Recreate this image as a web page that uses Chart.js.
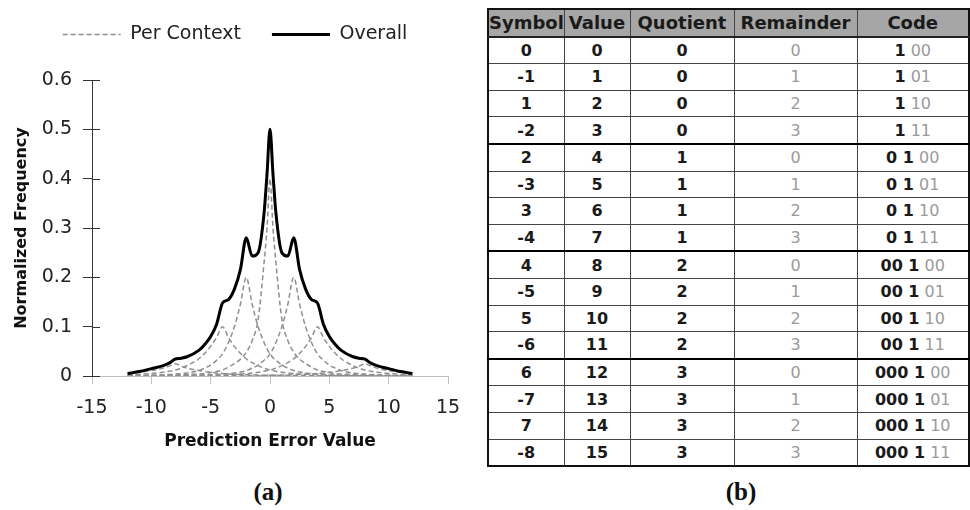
<!DOCTYPE html>
<html>
<head>
<meta charset="utf-8">
<script src="https://cdn.jsdelivr.net/npm/chart.js@4"></script>
<style>
  body { margin: 0; width: 970px; height: 510px; background: #fff; position: relative; overflow: hidden; }
  #chartBox { position: absolute; left: 0; top: -6px; width: 480px; height: 476px; }
  #codeTable {
    position: absolute; left: 487px; top: 8px; width: 481px;
    border-collapse: collapse; table-layout: fixed;
    font-family: "DejaVu Sans", sans-serif; border: 2px solid #111;
  }
  #codeTable th, #codeTable td {
    height: 25.6px; padding: 0; text-align: center; border: 1px solid #444;
    white-space: nowrap; overflow: hidden;
  }
  #codeTable th { background: #a6a6a6; color: #1a1a1a; font-size: 18px; font-weight: bold; border-bottom: 2px solid #222; }
  #codeTable td { font-size: 16px; color: #1a1a1a; }
  #codeTable td.b { font-weight: bold; }
  #codeTable td.gray, #codeTable span.gray { color: #9a9a9a; font-weight: normal; }
  #codeTable tr.groupEnd td { border-bottom: 2px solid #000; }
  .cap { position: absolute; top: 478px; font-family: "Liberation Serif", serif; font-weight: bold; font-size: 25px; color: #111; transform: translateX(-50%); }
</style>
</head>
<body>
<div id="chartBox"><canvas id="distChart"></canvas></div>
<table id="codeTable">
  <colgroup><col style="width:76px"><col style="width:66px"><col style="width:104px"><col style="width:123px"><col style="width:112px"></colgroup>
  <thead><tr><th>Symbol</th><th>Value</th><th>Quotient</th><th>Remainder</th><th>Code</th></tr></thead>
  <tbody id="codeBody"></tbody>
</table>
<div class="cap" style="left:268px">(a)</div>
<div class="cap" style="left:741px">(b)</div>

<script>
// x positions shared by every curve
const xs = [-12, -11, -10, -9, -8.5, -8, -7.5, -7, -6, -5.5, -5, -4.5, -4, -3.5, -3, -2.5, -2, -1.5, -1, -0.5, -0.25,
  0, 0.25, 0.5, 1, 1.5, 2, 2.5, 3, 3.5, 4, 4.5, 5, 5.5, 6, 7, 7.5, 8, 8.5, 9, 10, 11, 12];

// per context curves (dashed)
const ctx0 = [0.0003, 0.0005, 0.001, 0.001, 0.0015, 0.002, 0.002, 0.003, 0.004, 0.005, 0.007, 0.009, 0.012, 0.018, 0.025, 0.034, 0.048, 0.072, 0.115, 0.23, 0.30,
  0.40, 0.30, 0.23, 0.115, 0.072, 0.048, 0.034, 0.025, 0.018, 0.012, 0.009, 0.007, 0.005, 0.004, 0.003, 0.002, 0.002, 0.0015, 0.001, 0.001, 0.0005, 0.0003];
const ctxM2 = [0.0008, 0.001, 0.0015, 0.0025, 0.003, 0.004, 0.005, 0.006, 0.011, 0.016, 0.022, 0.032, 0.045, 0.068, 0.1, 0.145, 0.2, 0.145, 0.1, 0.068, 0.055,
  0.045, 0.037, 0.032, 0.022, 0.016, 0.011, 0.008, 0.006, 0.005, 0.004, 0.003, 0.0025, 0.002, 0.0015, 0.001, 0.0009, 0.0008, 0.0007, 0.0006, 0.0004, 0.0003, 0.0002];
const ctxP2 = [0.0002, 0.0003, 0.0004, 0.0006, 0.0007, 0.0008, 0.0009, 0.001, 0.0015, 0.002, 0.0025, 0.003, 0.004, 0.005, 0.006, 0.008, 0.011, 0.016, 0.022, 0.032, 0.037,
  0.045, 0.055, 0.068, 0.1, 0.145, 0.2, 0.145, 0.1, 0.068, 0.045, 0.032, 0.022, 0.016, 0.011, 0.006, 0.005, 0.004, 0.003, 0.0025, 0.0015, 0.001, 0.0008];
const ctxM4 = [0.0025, 0.0035, 0.005, 0.0075, 0.0095, 0.012, 0.016, 0.021, 0.035, 0.046, 0.06, 0.078, 0.1, 0.078, 0.06, 0.046, 0.035, 0.027, 0.021, 0.016, 0.014,
  0.012, 0.011, 0.0095, 0.0075, 0.006, 0.005, 0.004, 0.0035, 0.003, 0.0025, 0.002, 0.0017, 0.0015, 0.0012, 0.001, 0.0009, 0.0008, 0.0007, 0.0006, 0.0005, 0.0004, 0.0003];
const ctxP4 = [0.0003, 0.0004, 0.0005, 0.0006, 0.0007, 0.0008, 0.0009, 0.001, 0.0012, 0.0015, 0.0017, 0.002, 0.0025, 0.003, 0.0035, 0.004, 0.005, 0.006, 0.0075, 0.0095, 0.011,
  0.012, 0.014, 0.016, 0.021, 0.027, 0.035, 0.046, 0.06, 0.078, 0.1, 0.078, 0.06, 0.046, 0.035, 0.021, 0.016, 0.012, 0.0095, 0.0075, 0.005, 0.0035, 0.0025];
const ctxM8 = [0.005, 0.0075, 0.011, 0.016, 0.02, 0.025, 0.02, 0.016, 0.011, 0.009, 0.0075, 0.006, 0.005, 0.004, 0.0035, 0.003, 0.0025, 0.002, 0.0018, 0.0016, 0.0015,
  0.0014, 0.0013, 0.0012, 0.0011, 0.001, 0.0009, 0.00085, 0.0008, 0.00075, 0.0007, 0.00065, 0.0006, 0.00055, 0.0005, 0.0004, 0.00035, 0.0003, 0.00025, 0.0002, 0.00015, 0.0001, 0.0001];
const ctxP8 = [0.0001, 0.0001, 0.00015, 0.0002, 0.00025, 0.0003, 0.00035, 0.0004, 0.0005, 0.00055, 0.0006, 0.00065, 0.0007, 0.00075, 0.0008, 0.00085, 0.0009, 0.001, 0.0011, 0.0012, 0.0013,
  0.0014, 0.0015, 0.0016, 0.0018, 0.002, 0.0025, 0.003, 0.0035, 0.004, 0.005, 0.006, 0.0075, 0.009, 0.011, 0.016, 0.02, 0.025, 0.02, 0.016, 0.011, 0.0075, 0.005];

// overall curve (solid)
const overall = [0.005, 0.009, 0.015, 0.021, 0.026, 0.034, 0.036, 0.039, 0.052, 0.064, 0.08, 0.105, 0.148, 0.155, 0.176, 0.215, 0.28, 0.243, 0.25, 0.33, 0.41,
  0.5, 0.41, 0.33, 0.25, 0.243, 0.28, 0.215, 0.176, 0.155, 0.148, 0.105, 0.08, 0.064, 0.052, 0.039, 0.036, 0.034, 0.026, 0.021, 0.015, 0.009, 0.005];

const xTicks = [-15, -10, -5, 0, 5, 10, 15];
const yTicks = [0, 0.1, 0.2, 0.3, 0.4, 0.5, 0.6];

// table (b)
const symbols = [0, -1, 1, -2, 2, -3, 3, -4, 4, -5, 5, -6, 6, -7, 7, -8];
const values = [0, 1, 2, 3, 4, 5, 6, 7, 8, 9, 10, 11, 12, 13, 14, 15];
const quotients = [0, 0, 0, 0, 1, 1, 1, 1, 2, 2, 2, 2, 3, 3, 3, 3];
const remainders = [0, 1, 2, 3, 0, 1, 2, 3, 0, 1, 2, 3, 0, 1, 2, 3];
const codePrefix = ["1", "1", "1", "1", "0 1", "0 1", "0 1", "0 1", "00 1", "00 1", "00 1", "00 1", "000 1", "000 1", "000 1", "000 1"];
const codeSuffix = ["00", "01", "10", "11", "00", "01", "10", "11", "00", "01", "10", "11", "00", "01", "10", "11"];

const body = document.getElementById("codeBody");
symbols.forEach((s, i) => {
  const tr = document.createElement("tr");
  if (i % 4 === 3 && i < symbols.length - 1) tr.className = "groupEnd";
  tr.innerHTML =
    `<td class="b">${s}</td><td class="b">${values[i]}</td><td class="b">${quotients[i]}</td>` +
    `<td class="gray">${remainders[i]}</td>` +
    `<td><b>${codePrefix[i]}</b> <span class="gray">${codeSuffix[i]}</span></td>`;
  body.appendChild(tr);
});

const toPoints = (arr) => xs.map((x, i) => ({ x: x, y: arr[i] }));

const dashed = (data) => ({
  label: "Per Context",
  data: toPoints(data),
  borderColor: "#8f8f8f",
  borderWidth: 1.5,
  borderDash: [5, 3],
  pointRadius: 0,
  cubicInterpolationMode: "monotone",
  order: 1,
});

// inward half of the y axis tick marks
const innerTicks = {
  id: "innerTicks",
  afterDraw(chart) {
    const y = chart.scales.y;
    const c = chart.ctx;
    c.save();
    c.strokeStyle = "#333";
    c.lineWidth = 1;
    y.ticks.forEach((t) => {
      const py = Math.round(y.getPixelForValue(t.value)) + 0.5;
      c.beginPath();
      c.moveTo(y.right, py);
      c.lineTo(y.right + 8, py);
      c.stroke();
    });
    c.restore();
  },
};

Chart.defaults.font.family = "'DejaVu Sans', sans-serif";
Chart.defaults.color = "#333";

new Chart(document.getElementById("distChart").getContext("2d"), {
  type: "line",
  data: {
    datasets: [
      dashed(ctx0), dashed(ctxM2), dashed(ctxP2), dashed(ctxM4), dashed(ctxP4), dashed(ctxM8), dashed(ctxP8),
      {
        label: "Overall",
        data: toPoints(overall),
        borderColor: "#000",
        borderWidth: 3,
        pointRadius: 0,
        cubicInterpolationMode: "monotone",
        order: 0,
      },
    ],
  },
  options: {
    responsive: true,
    maintainAspectRatio: false,
    animation: false,
    layout: { padding: { left: 22, right: 32, top: 0, bottom: 0 } },
    plugins: {
      tooltip: { enabled: false },
      legend: {
        position: "top",
        labels: {
          usePointStyle: true,
          pointStyle: "line",
          pointStyleWidth: 58,
          padding: 31,
          color: "#222",
          font: { size: 19 },
          generateLabels: (chart) =>
            Chart.defaults.plugins.legend.labels.generateLabels(chart).map((item) => {
              const ds = chart.data.datasets[item.datasetIndex];
              item.lineDash = ds.borderDash || [];
              item.lineWidth = ds.borderWidth;
              item.strokeStyle = ds.borderColor;
              return item;
            }),
          filter: (item) => item.datasetIndex === 0 || item.text === "Overall",
          sort: (a, b) => a.datasetIndex - b.datasetIndex,
        },
      },
    },
    scales: {
      x: {
        type: "linear",
        min: -15,
        max: 15,
        afterBuildTicks: (s) => { s.ticks = xTicks.map((v) => ({ value: v })); },
        afterFit: (s) => { s.height = 94; },
        border: { color: "#c0c0c0", width: 1 },
        grid: { drawOnChartArea: false, tickLength: 8, color: "#c0c0c0" },
        ticks: { padding: 13, color: "#222", font: { size: 19 } },
        title: { display: true, text: "Prediction Error Value", color: "#111", font: { size: 17, weight: "bold" }, padding: { top: 0, bottom: 18 } },
      },
      xTop: {
        type: "linear",
        position: "top",
        min: -15,
        max: 15,
        afterFit: (s) => { s.height = 26; },
        border: { display: false },
        grid: { display: false },
        ticks: { display: false },
      },
      y: {
        min: 0,
        max: 0.6,
        afterBuildTicks: (s) => { s.ticks = yTicks.map((v) => ({ value: v })); },
        afterFit: (s) => { s.width = 70; },
        border: { color: "#333", width: 1 },
        grid: { drawOnChartArea: false, tickLength: 9, color: "#333" },
        ticks: {
          padding: 11,
          color: "#222",
          font: { size: 19 },
          callback: (v) => (v === 0 ? "0" : v.toFixed(1)),
        },
        title: { display: true, text: "Normalized Frequency", color: "#111", font: { size: 16, weight: "bold" }, padding: { top: -10, bottom: 0 } },
      },
    },
  },
  plugins: [innerTicks],
});
</script>
</body>
</html>
